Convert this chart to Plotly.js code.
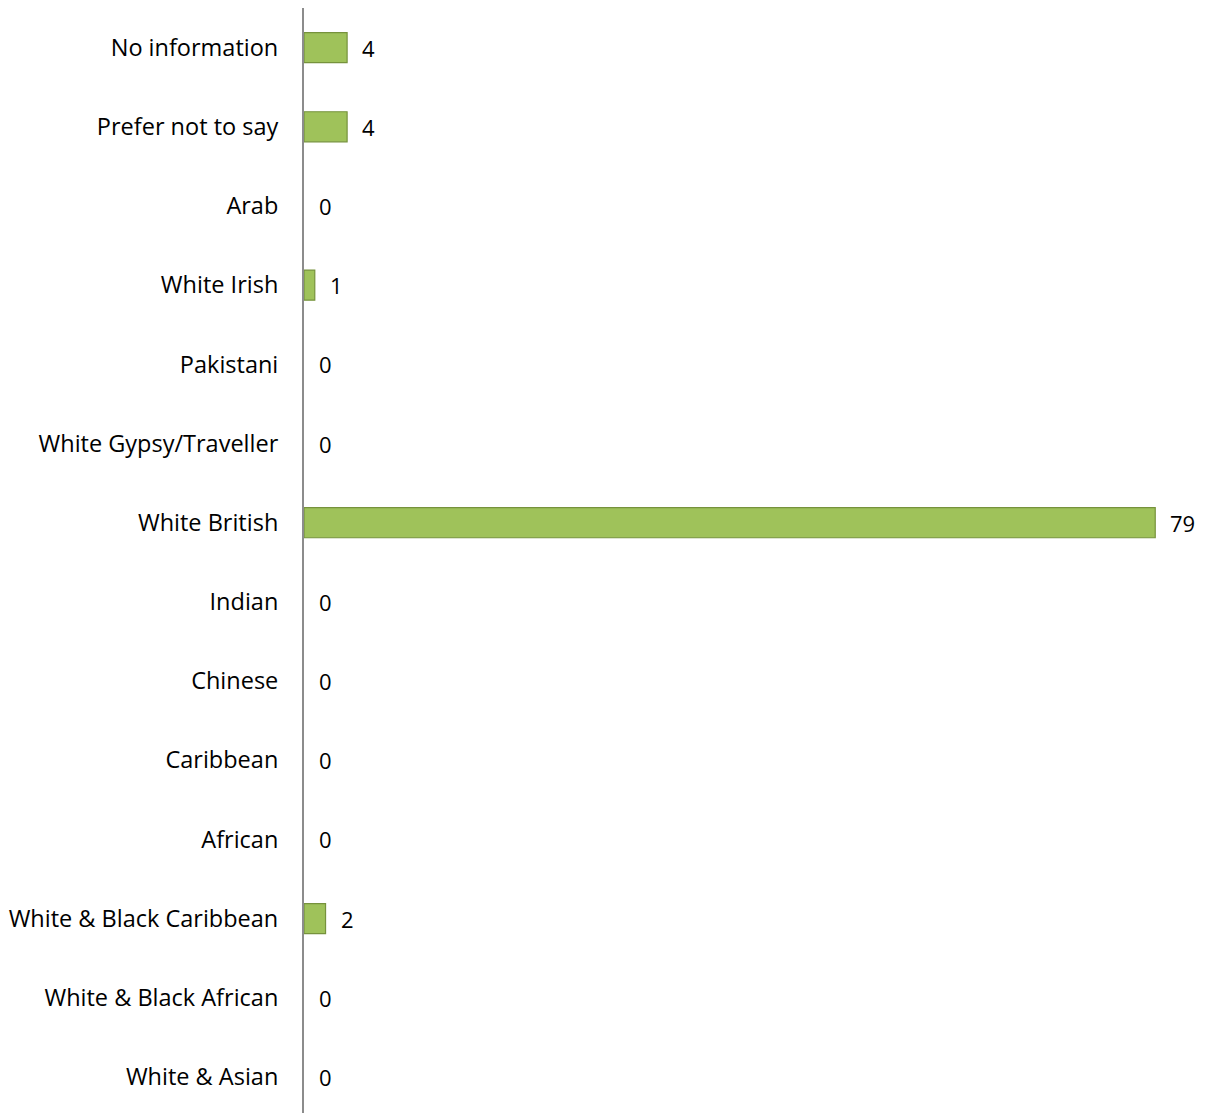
<!DOCTYPE html>
<html>
<head>
<meta charset="utf-8">
<script src="https://cdn.plot.ly/plotly-3.0.1.min.js"></script>
<style>html,body{margin:0;padding:0;background:#fff;}#chart{width:1205px;height:1113px;}</style>
</head>
<body>
<div id="chart"></div>
<script>
// Categories listed top to bottom as in the chart
const categories = [
  "No information",
  "Prefer not to say",
  "Arab",
  "White Irish",
  "Pakistani",
  "White Gypsy/Traveller",
  "White British",
  "Indian",
  "Chinese",
  "Caribbean",
  "African",
  "White & Black Caribbean",
  "White & Black African",
  "White & Asian"
];
const counts = [4, 4, 0, 1, 0, 0, 79, 0, 0, 0, 0, 2, 0, 0];

const fontFamily = "Open Sans, Noto Sans, sans-serif";

const trace = {
  type: "bar",
  orientation: "h",
  x: counts,
  y: categories,
  marker: {
    color: "#9fc25a",
    line: { color: "#76923c", width: counts.map(v => (v > 0 ? 1.2 : 0)) }
  },
  hoverinfo: "x+y"
};

const annotations = categories.map((c, i) => ({
  x: counts[i],
  y: c,
  xref: "x",
  yref: "y",
  text: String(counts[i]),
  showarrow: false,
  xanchor: "left",
  yanchor: "middle",
  xshift: 13,
  font: { family: fontFamily, size: 22, color: "#000" }
}));

const layout = {
  width: 1205,
  height: 1113,
  margin: { l: 304, r: 39, t: 8, b: 0 },
  paper_bgcolor: "#fff",
  plot_bgcolor: "#fff",
  bargap: 0.62,
  showlegend: false,
  font: { family: fontFamily },
  xaxis: {
    range: [0, 80],
    showgrid: false,
    zeroline: false,
    showline: false,
    showticklabels: false,
    ticks: ""
  },
  yaxis: {
    type: "category",
    range: [13.455, -0.5],
    showgrid: false,
    zeroline: false,
    showline: true,
    linecolor: "#8c8c8c",
    linewidth: 2,
    ticks: "",
    ticklabelstandoff: 19,
    tickfont: { family: fontFamily, size: 23.5, color: "#000" }
  },
  annotations: annotations
};

Plotly.newPlot("chart", [trace], layout, { displayModeBar: false, staticPlot: true });
</script>
</body>
</html>
